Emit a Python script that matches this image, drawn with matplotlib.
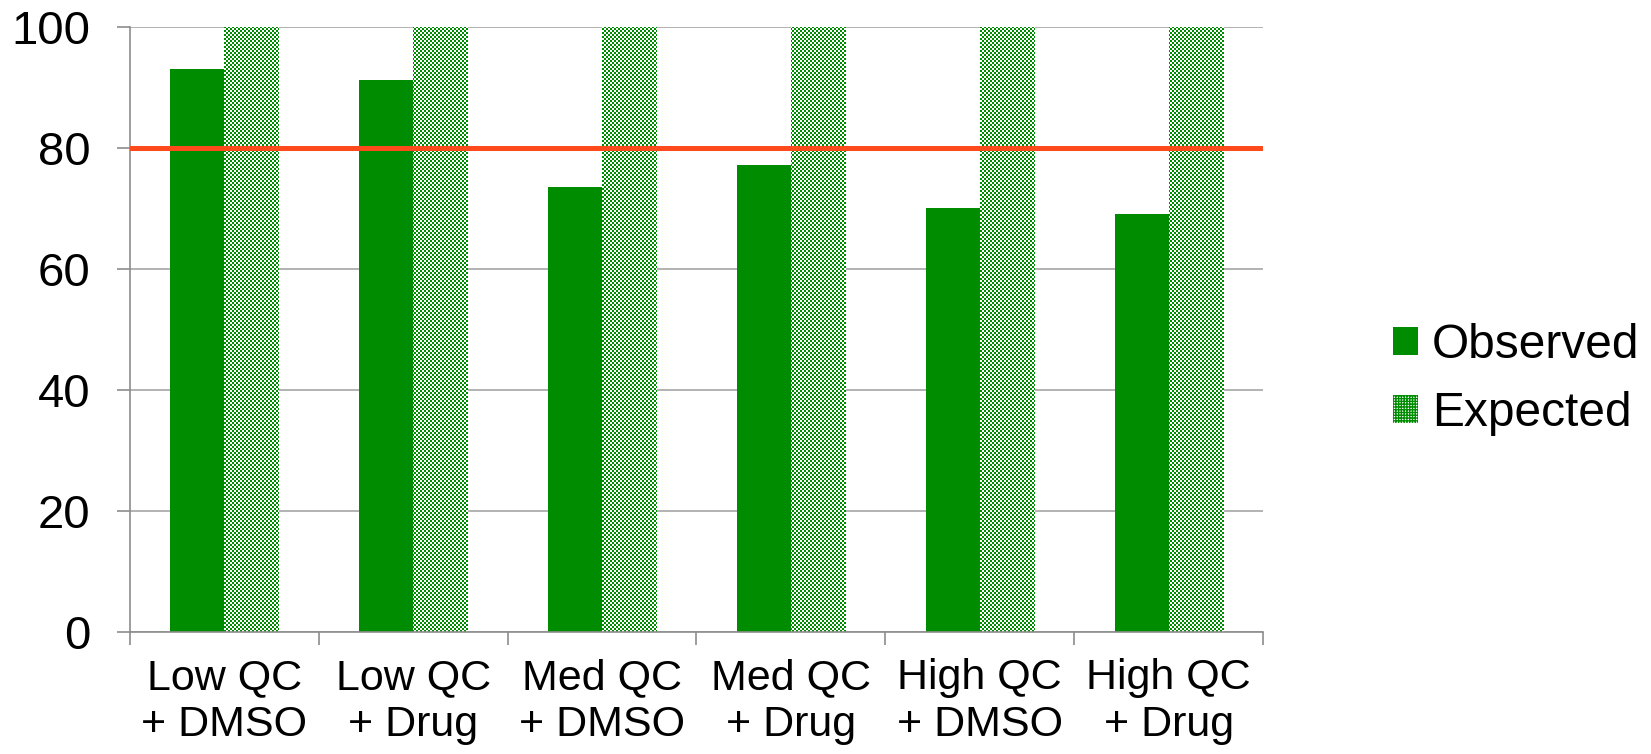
import numpy as np
import matplotlib
matplotlib.use('Agg')
import matplotlib.pyplot as plt
from matplotlib.patches import Patch

plt.rcParams['font.family'] = ['Liberation Sans', 'DejaVu Sans']

categories = ['Low QC\n+ DMSO', 'Low QC\n+ Drug', 'Med QC\n+ DMSO',
              'Med QC\n+ Drug', 'High QC\n+ DMSO', 'High QC\n+ Drug']
observed = [93.0, 91.3, 73.5, 77.2, 70.1, 69.1]
expected = [100, 100, 100, 100, 100, 100]
threshold = 80

green = '#008C00'
grid_gray = '#A6A6A6'

fig = plt.figure(figsize=(16.51, 7.54), dpi=100)
ax = fig.add_axes([0.0787, 0.1618, 0.6863, 0.8024])

x = np.arange(len(categories))
bw = 0.286

ax.bar(x - bw / 2, observed, bw, color=green, linewidth=0, zorder=2)
exp_bars = ax.bar(x + bw / 2, expected, bw, facecolor='none', linewidth=0, zorder=2)

ax.set_xlim(-0.5, len(categories) - 0.5)
ax.set_ylim(0, 100)

# checkerboard fill for the expected bars (2px cells)
ny, nx = 303, 567
yy, xx = np.mgrid[0:ny, 0:nx]
checker = ((xx + yy) % 2).astype(float)
cmap = matplotlib.colors.ListedColormap(['white', green])
for b in exp_bars:
    im = ax.imshow(checker, cmap=cmap, extent=(-0.5, len(categories) - 0.5, 0, 100),
                   aspect='auto', interpolation='nearest', zorder=2)
    im.set_clip_path(b)

ax.axhline(threshold, color='#FF4A1C', linewidth=3.6, zorder=3)

ax.set_yticks([0, 20, 40, 60, 80, 100])
ax.yaxis.grid(True, color=grid_gray, linewidth=1.2, zorder=0)
ax.set_axisbelow(True)

ax.set_xticks(np.arange(len(categories) + 1) - 0.5)
ax.set_xticklabels([])
ax.set_xticks(x, minor=True)
ax.set_xticklabels(categories, minor=True, fontsize=31)
ax.tick_params(axis='x', which='major', length=9.5, width=1.2, color='#8C8C8C')
ax.tick_params(axis='x', which='minor', length=0, pad=19)
ax.tick_params(axis='y', length=9.5, width=1.2, color='#8C8C8C', labelsize=34, pad=19)

for s in ['top', 'right']:
    ax.spines[s].set_visible(False)
for s in ['left', 'bottom']:
    ax.spines[s].set_color('#8C8C8C')
    ax.spines[s].set_linewidth(1.2)

handles = [Patch(facecolor=green, linewidth=0, label='Observed'),
           Patch(facecolor='white', edgecolor=green, hatch='++++++', linewidth=0, label='Expected')]
fig.legend(handles=handles, loc='center left', bbox_to_anchor=(0.8437, 0.497),
           frameon=False, fontsize=34.5, handlelength=0.52, handleheight=0.52,
           handletextpad=0.29, labelspacing=0.49, borderpad=0, borderaxespad=0)

fig.savefig('out.png', dpi=100)
